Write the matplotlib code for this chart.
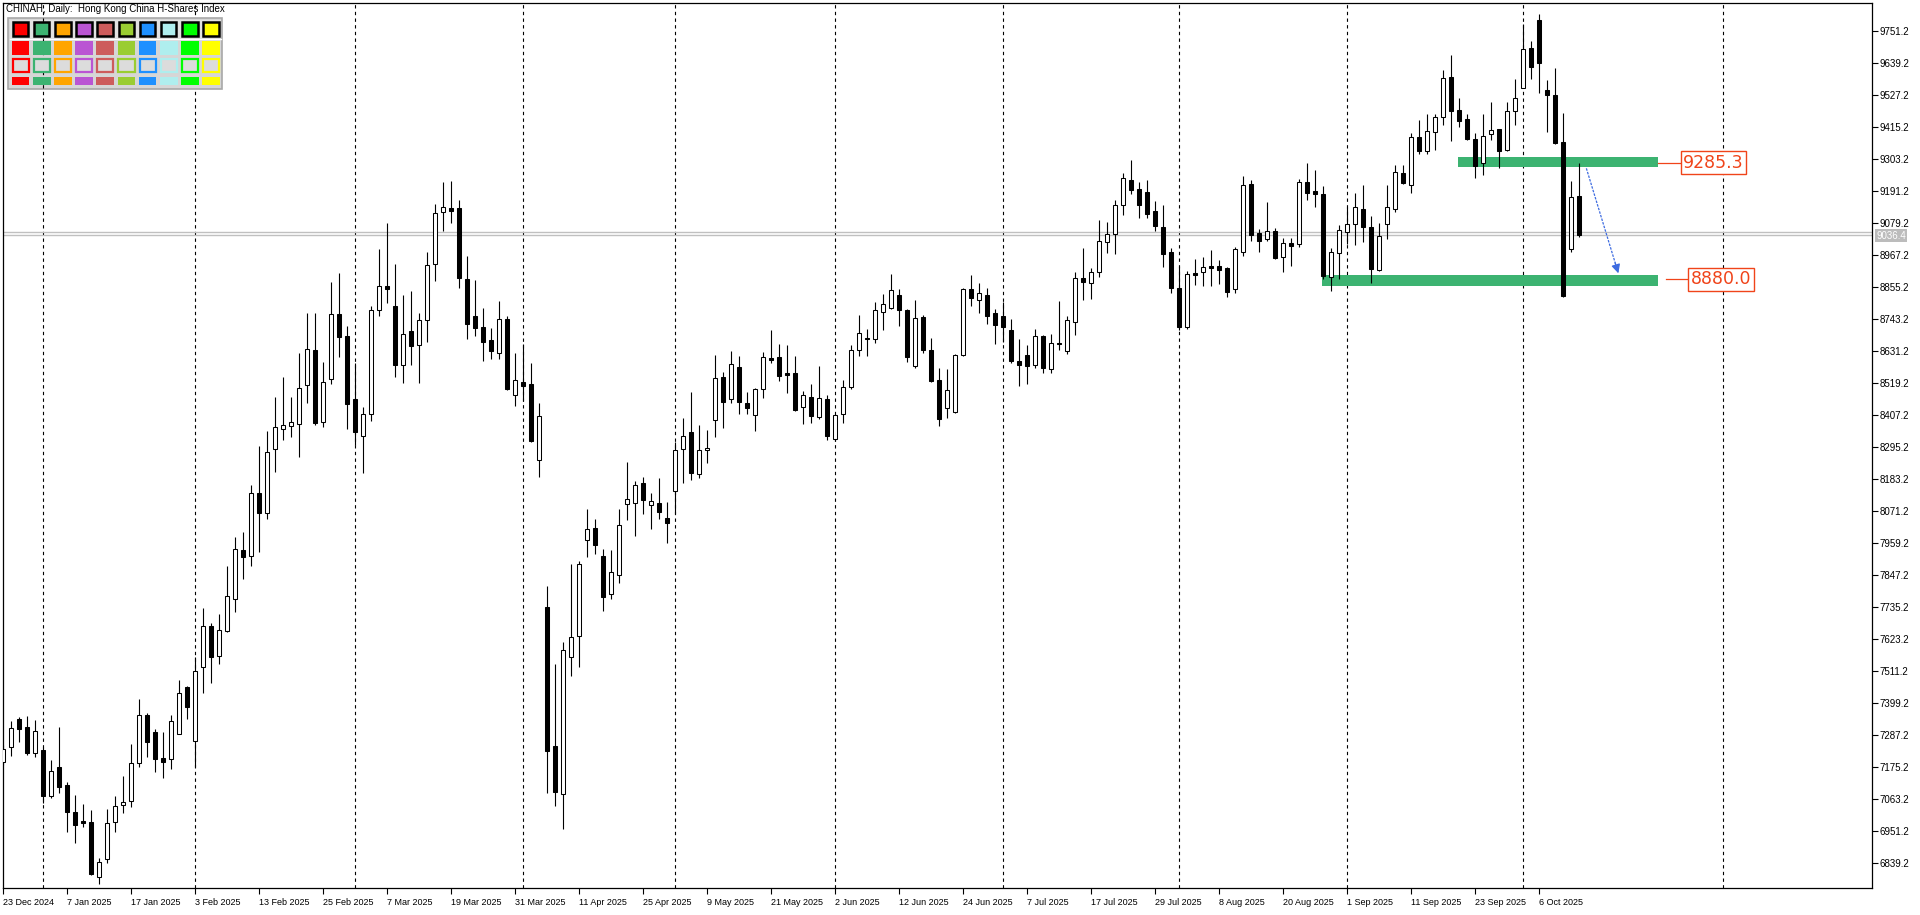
import matplotlib
matplotlib.use("Agg")
import matplotlib.pyplot as plt
from matplotlib.patches import Rectangle
from matplotlib.transforms import blended_transform_factory

plt.rcParams['font.family'] = ['Liberation Sans', 'DejaVu Sans']

# ---------------- data (daily OHLC, bar index 0 = 23 Dec 2024) ----------------
opens = [7195, 7245, 7344, 7316, 7224, 7236, 7076, 7175, 7113, 7019,
         6987, 6983, 6790, 6853, 6983, 7044, 7056, 7189, 7357, 7297,
         7208, 7203, 7292, 7455, 7268, 7525, 7668, 7563, 7651, 7763,
         7934, 7913, 8134, 8064, 8288, 8358, 8368, 8375, 8512, 8634,
         8382, 8533, 8760, 8684, 8463, 8333, 8410, 8774, 8858, 8788,
         8582, 8700, 8651, 8739, 8935, 9117, 9131, 9131, 8882, 8753,
         8714, 8669, 8624, 8742, 8477, 8522, 8515, 8249, 7736, 7250,
         7083, 7562, 7635, 7969, 8011, 7914, 7780, 7849, 8098, 8101,
         8170, 8094, 8099, 8046, 8141, 8290, 8349, 8200, 8284, 8390,
         8542, 8465, 8577, 8449, 8408, 8500, 8608, 8612, 8554, 8554,
         8435, 8471, 8400, 8463, 8323, 8410, 8507, 8634, 8678, 8675,
         8769, 8783, 8828, 8775, 8580, 8751, 8635, 8530, 8433, 8419,
         8616, 8847, 8809, 8828, 8765, 8754, 8705, 8597, 8616, 8584,
         8684, 8570, 8660, 8630, 8734, 8886, 8868, 8909, 9012, 9040,
         9141, 9229, 9197, 9187, 9121, 9064, 8977, 8851, 8717, 8903,
         8907, 8929, 8928, 8922, 8847, 8979, 9216, 9043, 9022, 9051,
         8959, 9008, 9005, 9222, 9191, 9181, 8889, 8973, 9047, 9075,
         9127, 9064, 8915, 9075, 9127, 9253, 9211, 9380, 9333, 9397,
         9452, 9589, 9475, 9443, 9372, 9288, 9390, 9407, 9334, 9473,
         9553, 9691, 9790, 9545, 9529, 9362, 8987, 9173]
highs = [7253, 7337, 7352, 7355, 7341, 7247, 7201, 7317, 7125, 7078,
         7047, 7026, 6857, 7029, 7075, 7145, 7257, 7414, 7364, 7308,
         7297, 7358, 7481, 7458, 7562, 7731, 7679, 7712, 7879, 7980,
         7997, 8163, 8299, 8352, 8470, 8540, 8472, 8624, 8763, 8763,
         8592, 8872, 8903, 8720, 8591, 8437, 8790, 8987, 9078, 8935,
         8826, 8840, 8763, 8977, 9146, 9222, 9226, 9160, 8964, 8880,
         8781, 8711, 8805, 8754, 8626, 8655, 8591, 8449, 7811, 7535,
         7615, 7888, 7898, 8078, 8043, 7940, 7935, 8078, 8243, 8177,
         8192, 8136, 8189, 8102, 8313, 8398, 8488, 8374, 8354, 8619,
         8557, 8632, 8615, 8488, 8501, 8628, 8705, 8657, 8654, 8615,
         8492, 8516, 8579, 8477, 8410, 8530, 8653, 8758, 8707, 8803,
         8831, 8901, 8849, 8777, 8810, 8758, 8676, 8572, 8569, 8620,
         8852, 8898, 8870, 8852, 8779, 8803, 8744, 8674, 8653, 8709,
         8688, 8691, 8805, 8755, 8908, 8992, 8923, 9090, 9083, 9160,
         9253, 9300, 9223, 9229, 9156, 9142, 8993, 8929, 8911, 8955,
         8962, 8985, 8951, 8925, 8994, 9245, 9230, 9057, 9153, 9062,
         9028, 9028, 9233, 9288, 9265, 9209, 8993, 9072, 9137, 9186,
         9212, 9104, 9081, 9211, 9284, 9283, 9396, 9440, 9461, 9461,
         9615, 9667, 9516, 9461, 9396, 9461, 9504, 9409, 9504, 9583,
         9775, 9716, 9811, 9580, 9621, 9463, 9226, 9288]
lows = [7183, 7216, 7265, 7218, 7212, 7049, 7067, 7086, 6950, 6911,
        6965, 6797, 6768, 6839, 6950, 7014, 7037, 7175, 7212, 7160,
        7137, 7168, 7290, 7343, 7177, 7436, 7471, 7535, 7648, 7720,
        7833, 7881, 7930, 8043, 8210, 8320, 8330, 8262, 8449, 8373,
        8365, 8515, 8612, 8358, 8303, 8204, 8388, 8755, 8798, 8542,
        8519, 8584, 8519, 8664, 8878, 9053, 9081, 8853, 8673, 8685,
        8596, 8603, 8603, 8495, 8440, 8458, 8314, 8190, 7086, 7040,
        6958, 7496, 7527, 7910, 7920, 7723, 7765, 7820, 8040, 7986,
        8061, 8009, 8043, 7959, 8061, 8169, 8179, 8189, 8241, 8332,
        8362, 8451, 8410, 8410, 8352, 8468, 8589, 8528, 8486, 8422,
        8376, 8381, 8395, 8320, 8318, 8381, 8500, 8614, 8615, 8661,
        8705, 8780, 8720, 8594, 8573, 8626, 8524, 8370, 8396, 8416,
        8614, 8790, 8766, 8725, 8655, 8664, 8591, 8510, 8516, 8573,
        8556, 8556, 8635, 8620, 8689, 8810, 8815, 8892, 8976, 8972,
        9109, 9182, 9098, 9098, 9050, 8927, 8836, 8705, 8710, 8862,
        8860, 8860, 8866, 8822, 8833, 8965, 9018, 8979, 9018, 8953,
        8909, 8930, 8994, 9160, 9134, 8882, 8843, 8885, 9005, 9002,
        9012, 8868, 8913, 9022, 9119, 9215, 9183, 9321, 9321, 9335,
        9424, 9368, 9414, 9370, 9238, 9246, 9370, 9271, 9332, 9422,
        9551, 9583, 9533, 9399, 9355, 8822, 8979, 9029]
closes = [7238, 7311, 7310, 7224, 7301, 7076, 7162, 7107, 7020, 6974,
          6981, 6801, 6843, 6979, 7041, 7053, 7189, 7357, 7265, 7205,
          7195, 7336, 7434, 7385, 7511, 7668, 7562, 7654, 7773, 7938,
          7910, 8134, 8064, 8277, 8367, 8372, 8384, 8503, 8638, 8381,
          8522, 8760, 8682, 8445, 8347, 8410, 8774, 8858, 8850, 8584,
          8690, 8650, 8739, 8934, 9113, 9134, 9120, 8886, 8725, 8711,
          8664, 8631, 8742, 8498, 8529, 8510, 8318, 8404, 7233, 7089,
          7587, 7631, 7886, 8010, 7952, 7770, 7860, 8022, 8115, 8163,
          8110, 8108, 8068, 8031, 8286, 8335, 8206, 8286, 8293, 8538,
          8454, 8587, 8454, 8431, 8498, 8612, 8600, 8544, 8547, 8425,
          8477, 8405, 8466, 8335, 8407, 8506, 8635, 8693, 8675, 8774,
          8795, 8844, 8776, 8612, 8746, 8636, 8527, 8395, 8494, 8616,
          8847, 8816, 8833, 8755, 8721, 8717, 8598, 8584, 8580, 8683,
          8573, 8660, 8655, 8739, 8886, 8872, 8907, 9015, 9040, 9141,
          9236, 9196, 9144, 9112, 9068, 8972, 8853, 8717, 8900, 8899,
          8924, 8923, 8914, 8839, 8987, 9211, 9039, 9018, 9051, 8956,
          9008, 9000, 9222, 9186, 9180, 8894, 8977, 9055, 9075, 9134,
          9067, 8917, 9034, 9134, 9258, 9221, 9380, 9333, 9401, 9452,
          9586, 9473, 9438, 9372, 9280, 9384, 9405, 9333, 9471, 9516,
          9687, 9624, 9638, 9528, 9361, 8825, 9169, 9036.4]

tick_bars = [0, 8, 16, 24, 32, 40, 48, 56, 64, 72, 80, 88, 96, 104, 112,
             120, 128, 136, 144, 152, 160, 168, 176, 184, 192]
tick_labels = ["23 Dec 2024", "7 Jan 2025", "17 Jan 2025", "3 Feb 2025", "13 Feb 2025",
               "25 Feb 2025", "7 Mar 2025", "19 Mar 2025", "31 Mar 2025", "11 Apr 2025",
               "25 Apr 2025", "9 May 2025", "21 May 2025", "2 Jun 2025", "12 Jun 2025",
               "24 Jun 2025", "7 Jul 2025", "17 Jul 2025", "29 Jul 2025", "8 Aug 2025",
               "20 Aug 2025", "1 Sep 2025", "11 Sep 2025", "23 Sep 2025", "6 Oct 2025"]
month_start_bars = [5, 24, 44, 65, 84, 104, 125, 147, 168, 190, 215]
price_ticks = [6839.2, 6951.2, 7063.2, 7175.2, 7287.2, 7399.2, 7511.2, 7623.2, 7735.2,
               7847.2, 7959.2, 8071.2, 8183.2, 8295.2, 8407.2, 8519.2, 8631.2, 8743.2,
               8855.2, 8967.2, 9079.2, 9191.2, 9303.2, 9415.2, 9527.2, 9639.2, 9751.2]
bid_price = 9036.4
bid_line = 9038.0
ask_line = 9048.0
resistance_level = 9285.3
support_level = 8880.0
palette = ['#ff0000', '#3cb371', '#ffa500', '#ba55d3', '#cd5c5c',
           '#9acd32', '#1e90ff', '#afeeee', '#00ff00', '#ffff00']
title_text = "CHINAH, Daily:  Hong Kong China H-Shares Index"

# ---------------- figure ----------------
W, H = 1920, 915
fig = plt.figure(figsize=(W / 100, H / 100), dpi=100)
fig.patch.set_facecolor('white')
L_PX, R_PX, T_PX, B_PX = 2.5, 1872, 3, 888
ax = fig.add_axes([L_PX / W, 1 - B_PX / H, (R_PX - L_PX) / W, (B_PX - T_PX) / H])
ax.set_facecolor('white')
ax.set_xlim(-0.0625, 233.6)
ax.set_ylim(6752.8, 9849.2)

for s in ax.spines.values():
    s.set_color('black')
    s.set_linewidth(0.9)

# month separators
for b in month_start_bars:
    ax.axvline(b, color='black', lw=0.8, linestyle=(0, (3, 3)), zorder=1)

# current price lines
ax.axhline(ask_line, color='#c0c0c0', lw=1.0, zorder=1.2)
ax.axhline(bid_line, color='#c0c0c0', lw=1.0, zorder=1.2)

# zones
green = '#3cb371'
ax.add_patch(Rectangle((181.9, 9276.6), 206.8 - 181.9, 9310.4 - 9276.6,
                       facecolor=green, edgecolor='none', zorder=1.5))
ax.add_patch(Rectangle((164.9, 8860.2), 206.8 - 164.9, 8896.4 - 8860.2,
                       facecolor=green, edgecolor='none', zorder=1.5))

# candles
xs = list(range(len(opens)))
ax.vlines(xs, lows, highs, color='black', lw=0.8, zorder=2)
bottoms = [min(o, c) for o, c in zip(opens, closes)]
heights = [max(abs(c - o), 0.3) for o, c in zip(opens, closes)]
faces = ['white' if c > o else 'black' for o, c in zip(opens, closes)]
ax.bar(xs, heights, width=0.52, bottom=bottoms, color=faces, edgecolor='black',
       linewidth=0.75, zorder=3)

# level labels
lab_col = '#f0441a'
ax.plot([206.8, 209.7], [9288, 9288], color=lab_col, lw=0.9, zorder=4)
ax.plot([207.9, 210.6], [8882, 8882], color=lab_col, lw=0.9, zorder=4)
ax.text(213.8, 9290, f"{resistance_level:.1f}", color=lab_col, fontsize=12.5,
        family='DejaVu Sans', ha='center', va='center', zorder=5,
        bbox=dict(boxstyle='square,pad=0.15', fc='white', ec=lab_col, lw=1.0))
ax.text(214.75, 8882.8, f"{support_level:.1f}", color=lab_col, fontsize=12.5,
        family='DejaVu Sans', ha='center', va='center', zorder=5,
        bbox=dict(boxstyle='square,pad=0.15', fc='white', ec=lab_col, lw=1.0))

# projected move arrow
blue = '#3d6be0'
ax.plot([197.9, 201.6], [9270.8, 8931], color=blue, lw=0.9, linestyle=(0, (2, 1)), zorder=4)
ax.annotate('', xy=(201.9, 8903.4), xytext=(201.5, 8940),
            arrowprops=dict(arrowstyle='-|>', color=blue, lw=0.9, mutation_scale=13,
                            shrinkA=0, shrinkB=0), zorder=4)

# axes ticks
ax.yaxis.tick_right()
ax.set_yticks(price_ticks)
ax.set_yticklabels([f"{v:.1f}" for v in price_ticks])
ax.tick_params(axis='y', direction='out', length=4, width=0.8, pad=1.5,
               labelsize=7, colors='black')
ax.set_xticks(tick_bars)
ax.set_xticklabels(tick_labels, ha='left')
ax.tick_params(axis='x', direction='out', length=4, width=0.8, pad=3,
               labelsize=6.5, colors='black')

# bid price tag on axis
tr = blended_transform_factory(ax.transAxes, ax.transData)
ax.text(1.0022, (bid_line + ask_line) / 2 - 8, f"{bid_price:.1f}", transform=tr,
        color='white', fontsize=7, ha='left', va='center', zorder=6, clip_on=False,
        bbox=dict(boxstyle='square,pad=0.15', fc='#bcbcbc', ec='none'))

# ---------------- overlay: title + colour panel ----------------
ov = fig.add_axes([0, 0, 1, 1])
ov.set_xlim(0, W)
ov.set_ylim(H, 0)
ov.axis('off')
ov.patch.set_alpha(0)

ov.text(6, 9.5, title_text, fontsize=7, color='black', ha='left', va='center')
ov.add_patch(Rectangle((8.3, 17.5), 213.4, 71, facecolor='#d6d6d6', edgecolor='#a8a8a8',
                       lw=1.2, zorder=1))
ov.add_patch(Rectangle((9.5, 19.5), 211, 18.5, facecolor='#e2e2e2', edgecolor='none', zorder=1.1))
ov.plot([9.5, 220.5], [38.5, 38.5], color='white', lw=1.0, zorder=1.2)
# month separator continues visibly over the panel background, beneath the swatches
sep_px = ax.transData.transform((month_start_bars[0], 9000))[0]
ov.plot([sep_px, sep_px], [17.5, 88.5], color='black', lw=0.8, linestyle=(0, (3, 3)), zorder=1.3)
for k, col in enumerate(palette):
    x0 = 11.7 + 21.17 * k
    ov.add_patch(Rectangle((x0 + 1, 22.2), 15.5, 13.5, facecolor=col, edgecolor='black',
                           lw=1.8, zorder=2))
    ov.add_patch(Rectangle((x0, 40.7), 17.7, 14.3, facecolor=col, edgecolor='none', zorder=2))
    ov.add_patch(Rectangle((x0 + 0.8, 59), 16.2, 12.5, facecolor='#dcdcdc', edgecolor=col,
                           lw=1.6, zorder=2))
    ov.add_patch(Rectangle((x0, 77.3), 17.7, 7.7, facecolor=col, edgecolor='none', zorder=2))

fig.savefig('out.png', dpi=100, facecolor='white')
